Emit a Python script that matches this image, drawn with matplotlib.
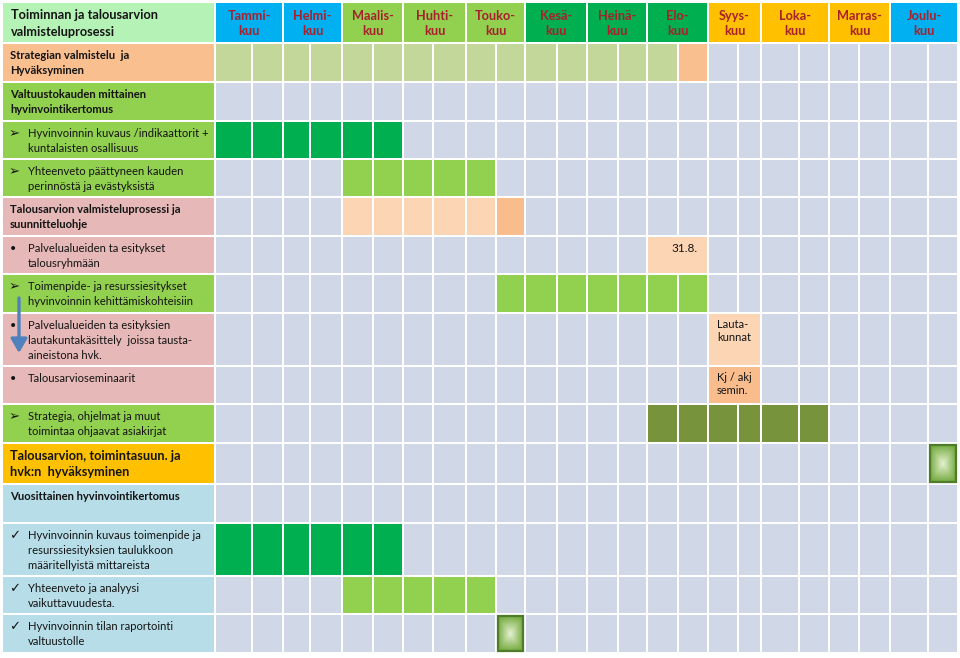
import numpy as np
import matplotlib
matplotlib.use("Agg")
import matplotlib.pyplot as plt
from matplotlib.patches import Rectangle, FancyArrowPatch

plt.rcParams['font.family'] = ['Lato', 'DejaVu Sans']

# ---------------- data ----------------
title_label = "Toiminnan ja talousarvion\nvalmisteluprosessi"
months = ["Tammi-\nkuu", "Helmi-\nkuu", "Maalis-\nkuu", "Huhti-\nkuu", "Touko-\nkuu", "Kesä-\nkuu",
          "Heinä-\nkuu", "Elo-\nkuu", "Syys-\nkuu", "Loka-\nkuu", "Marras-\nkuu", "Joulu-\nkuu"]
month_colors = ["cyan", "cyan", "lgreen", "lgreen", "lgreen", "dgreen",
                "dgreen", "dgreen", "yellow", "yellow", "yellow", "cyan"]

row_labels = [
    "Strategian valmistelu  ja\nHyväksyminen",
    "Valtuustokauden mittainen\nhyvinvointikertomus",
    "Hyvinvoinnin kuvaus /indikaattorit +\nkuntalaisten osallisuus",
    "Yhteenveto päättyneen kauden\nperinnöstä ja evästyksistä",
    "Talousarvion valmisteluprosessi ja\nsuunnitteluohje",
    "Palvelualueiden ta esitykset\ntalousryhmään",
    "Toimenpide- ja resurssiesitykset\nhyvinvoinnin kehittämiskohteisiin",
    "Palvelualueiden ta esityksien\nlautakuntakäsittely  joissa tausta-\naineistona hvk.",
    "Talousarvioseminaarit",
    "Strategia, ohjelmat ja muut\ntoimintaa ohjaavat asiakirjat",
    "Talousarvion, toimintasuun. ja\nhvk:n  hyväksyminen",
    "Vuosittainen hyvinvointikertomus",
    "Hyvinvoinnin kuvaus toimenpide ja\nresurssiesityksien taulukkoon\nmääritellyistä mittareista",
    "Yhteenveto ja analyysi\nvaikuttavuudesta.",
    "Hyvinvoinnin tilan raportointi\nvaltuustolle",
]
row_bullets = ["", "", "➢", "➢", "", "•", "➢", "•", "•", "➢", "", "", "✓", "✓", "✓"]
row_bold = [True, True, False, False, True, False, False, False, False, False, True, True, False, False, False]
row_label_colors = ["peach", "lgreen", "lgreen", "lgreen", "pink", "pink", "lgreen", "pink", "pink",
                    "lgreen", "yellow", "lblue", "lblue", "lblue", "lblue"]

# filled half-month cells: (row, first half-month, last half-month, colour, merged, text)
fills = [
    (0, 0, 14, "olive", False, ""),
    (0, 15, 15, "peach", False, ""),
    (2, 0, 5, "dgreen", False, ""),
    (3, 4, 8, "lgreen", False, ""),
    (4, 4, 8, "lpeach", False, ""),
    (4, 9, 9, "mpeach", False, ""),
    (5, 14, 15, "lpeach", True, "31.8."),
    (6, 9, 15, "lgreen", False, ""),
    (7, 16, 17, "lpeach", True, "Lauta-\nkunnat"),
    (8, 16, 17, "mpeach", True, "Kj / akj\nsemin."),
    (9, 14, 19, "dolive", False, ""),
    (12, 0, 5, "dgreen", False, ""),
    (13, 4, 8, "lgreen", False, ""),
]
# milestone (gradient) cells: (row, half-month)
milestones = [(10, 23), (14, 9)]

# ---------------- layout / style ----------------
colors = {
    "cyan": "#00B0F0", "lgreen": "#92D050", "dgreen": "#00B050", "yellow": "#FFC000",
    "peach": "#FABF8F", "lpeach": "#FCD5B5", "mpeach": "#F9BC8C", "olive": "#C4D79B",
    "dolive": "#77933C", "pink": "#E6B9B8", "lblue": "#B7DEE8", "title": "#B5F2B5",
    "empty": "#D0D8E8",
}
col_edges = [215, 252, 283, 310, 342, 373, 403, 433, 466, 496, 525, 557, 587,
             618, 647, 678, 708, 738, 761, 799, 829, 859, 890, 928, 958]
row_edges = [2, 43, 82, 121, 159, 197, 236, 274, 313, 366, 404, 443, 484, 523, 576, 614, 653]
label_x0 = 2
pad = 1.0
W, H = 960, 658
text_color = "#141414"

fig = plt.figure(figsize=(W / 100, H / 100), dpi=100)
ax = fig.add_axes([0, 0, 1, 1])
ax.set_xlim(0, W)
ax.set_ylim(H, 0)
ax.axis("off")


def cell(x0, x1, y0, y1, color, z=1):
    ax.add_patch(Rectangle((x0 + pad, y0 + pad), x1 - x0 - 2 * pad, y1 - y0 - 2 * pad,
                           facecolor=color, edgecolor="none", zorder=z))


# header
cell(label_x0, col_edges[0], row_edges[0], row_edges[1], colors["title"])
ax.text(label_x0 + 9, (row_edges[0] + row_edges[1]) / 2 + 1, title_label, ha="left", va="center",
        fontsize=9.2, fontweight="bold", color=text_color, linespacing=1.45)
for m, (name, ck) in enumerate(zip(months, month_colors)):
    x0, x1 = col_edges[2 * m], col_edges[2 * m + 2]
    cell(x0, x1, row_edges[0], row_edges[1], colors[ck])
    ax.text((x0 + x1) / 2, (row_edges[0] + row_edges[1]) / 2 + 1, name, ha="center", va="center",
            fontsize=9.2, fontweight="bold", color="#A8202C", linespacing=1.3)

# body
nrows = len(row_labels)
for r in range(nrows):
    y0, y1 = row_edges[r + 1], row_edges[r + 2]
    cell(label_x0, col_edges[0], y0, y1, colors[row_label_colors[r]])
    for c in range(len(col_edges) - 1):
        cell(col_edges[c], col_edges[c + 1], y0, y1, colors["empty"])
    bullet = row_bullets[r]
    fs = 9.2 if r == 10 else 8.1
    tx = label_x0 + 8
    if bullet:
        ax.text(label_x0 + 7, y0 + 6, bullet, ha="left", va="top",
                fontsize=9.5 if bullet != "•" else 10,
                color=text_color, family=["DejaVu Sans"])
        tx = label_x0 + 26
    ax.text(tx, y0 + 7, row_labels[r], ha="left", va="top", fontsize=fs,
            fontweight="bold" if row_bold[r] else "normal", color=text_color,
            linespacing=1.45 if r != 10 else 1.4)

for (r, c0, c1, ck, merged, txt) in fills:
    y0, y1 = row_edges[r + 1], row_edges[r + 2]
    if merged:
        cell(col_edges[c0], col_edges[c1 + 1], y0, y1, colors[ck], z=2)
    else:
        for c in range(c0, c1 + 1):
            cell(col_edges[c], col_edges[c + 1], y0, y1, colors[ck], z=2)
    if txt:
        if r == 5:
            ax.text(col_edges[c1 + 1] - 10, y0 + 7, txt, ha="right", va="top",
                    fontsize=8.5, color=text_color, zorder=3)
        else:
            ax.text(col_edges[c0] + 9, y0 + 6, txt, ha="left", va="top",
                    fontsize=8, color=text_color, zorder=3, linespacing=1.25)

# milestones with gradient fill
n = 60
yy, xx = np.mgrid[-1:1:n * 1j, -1:1:n * 1j]
d = np.maximum(np.abs(xx), np.abs(yy)) * 0.6 + np.sqrt(xx ** 2 + yy ** 2) * 0.4
d = np.clip(d, 0, 1)
inner = np.array([0.90, 0.95, 0.82])
outer = np.array([0.45, 0.66, 0.24])
img = inner[None, None, :] * (1 - d[..., None]) + outer[None, None, :] * d[..., None]
for (r, c) in milestones:
    y0, y1 = row_edges[r + 1], row_edges[r + 2]
    x0, x1 = col_edges[c] + pad, col_edges[c + 1] - pad
    ax.imshow(img, extent=(x0, x1, y1 - pad, y0 + pad), zorder=3, aspect="auto",
              interpolation="bilinear")
    ax.add_patch(Rectangle((x0 + 0.8, y0 + pad + 0.8), x1 - x0 - 1.6, y1 - y0 - 2 * pad - 1.6,
                           facecolor="none", edgecolor="#4E7D2A", linewidth=1.6, zorder=4))

# blue arrow in label column
ya = row_edges[7]
ax.add_patch(FancyArrowPatch((19, ya + 24), (19, ya + 79),
                             arrowstyle="-|>,head_length=0.6,head_width=0.35",
                             color="#4F81BD", linewidth=2.4, zorder=5, mutation_scale=14,
                             shrinkA=0, shrinkB=0))

ax.set_xlim(0, W)
ax.set_ylim(H, 0)
fig.savefig("out.png", dpi=100, facecolor="white")
